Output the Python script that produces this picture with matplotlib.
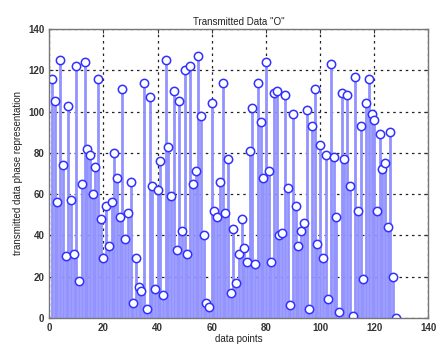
import matplotlib
matplotlib.use('Agg')

import numpy as np
import matplotlib.pyplot as plt

# phase values of the transmitted symbol stream, one per sample
values = [
    116, 105, 56, 125, 74, 30, 103, 57, 31, 122, 18, 65, 124, 82, 79, 60, 73, 116, 48, 29,
    54, 35, 56, 80, 68, 49, 111, 38, 51, 66, 7, 29, 15, 13, 114, 4, 107, 64, 14, 62,
    76, 11, 125, 83, 59, 110, 33, 105, 42, 120, 31, 122, 65, 71, 127, 98, 40, 7, 5, 104,
    52, 49, 66, 114, 51, 77, 12, 43, 17, 31, 48, 34, 27, 81, 102, 26, 114, 95, 68, 124,
    71, 27, 109, 110, 40, 41, 108, 63, 6, 99, 54, 35, 42, 46, 101, 4, 93, 111, 36, 84,
    29, 79, 9, 123, 78, 49, 3, 109, 77, 108, 64, 1, 117, 52, 93, 19, 104, 116, 99, 96,
    52, 89, 72, 75, 44, 90, 20, 0,
]
samples = np.arange(1, len(values) + 1)

ticks = list(range(0, 141, 20))

plt.rcParams['font.family'] = ['Liberation Sans', 'DejaVu Sans']

fig = plt.figure(figsize=(4.38, 3.47), dpi=100)
ax = fig.add_axes([0.1126, 0.0844, 0.8655, 0.8312])

markerline, stemlines, baseline = ax.stem(samples, values, basefmt=' ')
plt.setp(stemlines, color='#9393ff', linewidth=2.0)
plt.setp(markerline, marker='o', markersize=6, markerfacecolor='white',
         markeredgecolor='#3030ff', markeredgewidth=1.1)

ax.set_xlim(0, 140)
ax.set_ylim(0, 140)
ax.set_xticks(ticks)
ax.set_yticks(ticks)
ax.grid(True, linestyle=(0, (2, 3)), color='#222222', linewidth=0.9)
ax.set_axisbelow(True)
ax.tick_params(direction='in', length=3, labelsize=7, colors='#333333',
               top=True, right=True)
for lbl in ax.get_xticklabels() + ax.get_yticklabels():
    lbl.set_fontweight('bold')
for sp in ax.spines.values():
    sp.set_color('#777777')
    sp.set_linewidth(1.0)

ax.set_title('Transmitted Data "O"', fontsize=7, color='#222222', pad=3)
ax.set_xlabel('data points', fontsize=7, color='#222222', labelpad=1)
ax.set_ylabel('transmitted data phase representation', fontsize=7,
              color='#222222', labelpad=4)

fig.savefig('out.png', dpi=100)
